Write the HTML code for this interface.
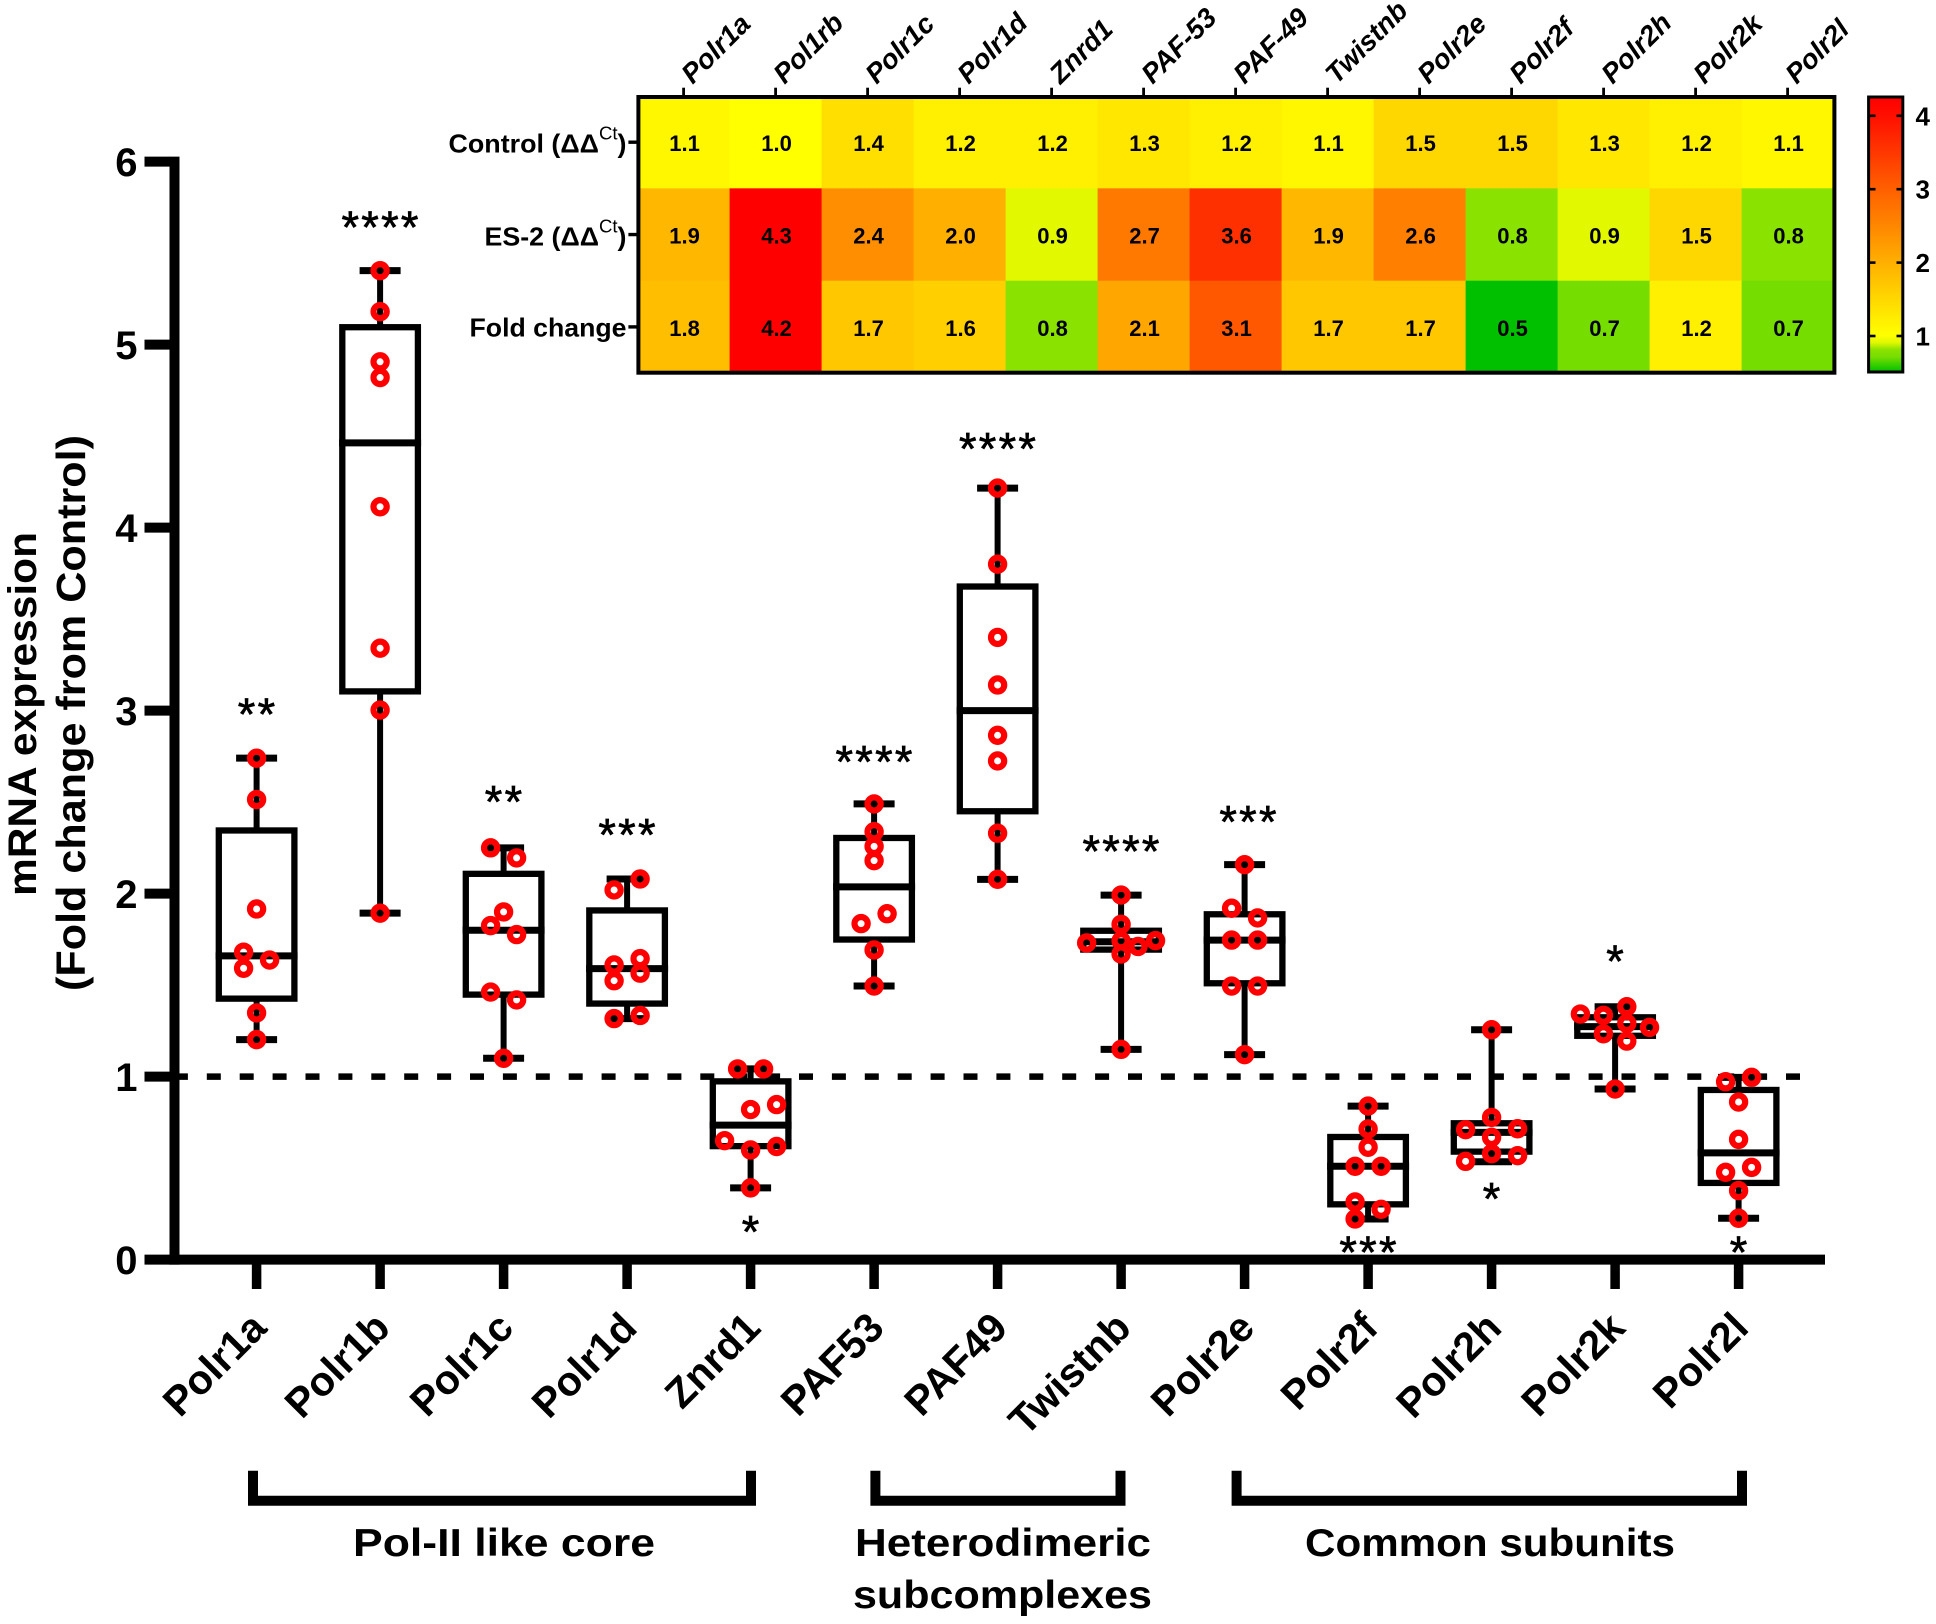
<!DOCTYPE html>
<html lang="en">
<head>
<meta charset="utf-8">
<title>mRNA expression box plots and heatmap</title>
<style>
html,body{margin:0;padding:0;background:#fff;}
svg{display:block;font-family:"Liberation Sans",sans-serif;}
</style>
</head>
<body>
<svg id="chart" xmlns="http://www.w3.org/2000/svg" width="1936" height="1624" viewBox="0 0 1936 1624">
  <rect x="0" y="0" width="1936" height="1624" fill="#fff"/>
  <defs>
    <linearGradient id="cbGrad" x1="0" y1="0" x2="0" y2="1"></linearGradient>
  </defs>

  <g id="dashLayer"></g>
  <g id="boxLayer"></g>
  <g id="axisLayer"></g>
  <g id="pointLayer"></g>
  <g id="starLayer"></g>
  <g id="heatLayer"></g>
  <g id="cbLayer"></g>

  <g font-weight="bold" fill="#000">
    <text transform="translate(36,714) rotate(-90)" text-anchor="middle" font-size="40" textLength="364" lengthAdjust="spacingAndGlyphs">mRNA expression</text>
    <text transform="translate(85,713) rotate(-90)" text-anchor="middle" font-size="41" textLength="556" lengthAdjust="spacingAndGlyphs">(Fold change from Control)</text>
  </g>

  <g font-weight="bold" font-size="26" fill="#000" text-anchor="end">
    <text x="626.5" y="152.7" textLength="178" lengthAdjust="spacingAndGlyphs">Control (ΔΔ<tspan font-size="18" font-weight="normal" dy="-13">Ct</tspan><tspan dy="13">)</tspan></text>
    <text x="626.5" y="245.3" textLength="142" lengthAdjust="spacingAndGlyphs">ES-2 (ΔΔ<tspan font-size="18" font-weight="normal" dy="-13">Ct</tspan><tspan dy="13">)</tspan></text>
    <text x="626.5" y="336.7" textLength="157" lengthAdjust="spacingAndGlyphs">Fold change</text>
  </g>

  <g font-weight="bold" font-size="39" fill="#000" text-anchor="middle">
    <path d="M253 1470.7V1500.7H751V1470.7" fill="none" stroke="#000" stroke-width="10"/>
    <path d="M875.4 1470.7V1500.7H1120.5V1470.7" fill="none" stroke="#000" stroke-width="10"/>
    <path d="M1236.6 1470.7V1500.7H1742V1470.7" fill="none" stroke="#000" stroke-width="10"/>
    <text x="504" y="1556" textLength="302" lengthAdjust="spacingAndGlyphs">Pol-II like core</text>
    <text x="1003" y="1556" textLength="296" lengthAdjust="spacingAndGlyphs">Heterodimeric</text>
    <text x="1002.5" y="1608" textLength="299" lengthAdjust="spacingAndGlyphs">subcomplexes</text>
    <text x="1490" y="1556" textLength="370" lengthAdjust="spacingAndGlyphs">Common subunits</text>
  </g>
</svg>

<script>
// ---------- box plot data ----------
const categories = ["Polr1a","Polr1b","Polr1c","Polr1d","Znrd1","PAF53","PAF49","Twistnb","Polr2e","Polr2f","Polr2h","Polr2k","Polr2l"];
const yTicks = [0,1,2,3,4,5,6];
const referenceValue = 1;
const whiskerHigh = [2.74,5.404,2.25,2.08,1.042,2.49,4.216,1.992,2.158,0.839,1.256,1.382,0.996];
const boxQ3 =       [2.345,5.095,2.108,1.908,0.974,2.304,3.678,1.797,1.887,0.67,0.745,1.324,0.927];
const boxMedian =   [1.66,4.463,1.80,1.59,0.735,2.037,3.0,1.737,1.746,0.51,0.695,1.273,0.583];
const boxQ1 =       [1.426,3.105,1.448,1.399,0.62,1.749,2.45,1.694,1.51,0.302,0.59,1.223,0.419];
const whiskerLow =  [1.202,1.893,1.10,1.317,0.392,1.495,2.078,1.149,1.12,0.222,0.535,0.932,0.226];
const pointValues = [
  [2.74,2.514,1.916,1.68,1.637,1.592,1.348,1.202],
  [5.404,5.18,4.906,4.82,4.114,3.341,3.003,1.893],
  [2.25,2.195,1.90,1.825,1.776,1.462,1.419,1.10],
  [2.08,2.02,1.645,1.61,1.565,1.524,1.334,1.317],
  [1.042,1.042,0.847,0.82,0.65,0.618,0.599,0.392],
  [2.49,2.338,2.258,2.18,1.89,1.836,1.692,1.495],
  [4.216,3.80,3.40,3.14,2.865,2.725,2.33,2.078],
  [1.992,1.832,1.742,1.73,1.711,1.743,1.67,1.149],
  [2.158,1.92,1.867,1.746,1.746,1.495,1.495,1.12],
  [0.839,0.714,0.614,0.51,0.51,0.315,0.275,0.222],
  [1.256,0.777,0.71,0.715,0.668,0.579,0.568,0.537],
  [1.382,1.342,1.335,1.291,1.269,1.234,1.194,0.932],
  [0.996,0.972,0.861,0.657,0.504,0.477,0.377,0.226]
];
const pointJitter = [
  [0,0,0,-1,1,-1,0,0],
  [0,0,0,0,0,0,0,0],
  [-1,1,0,-1,1,-1,1,0],
  [1,-1,1,-1,1,-1,1,-1],
  [-1,1,2,0,-2,2,0,0],
  [0,0,0,0,1,-1,0,0],
  [0,0,0,0,0,0,0,0],
  [0,0,0,-2.65,1.3,2.65,0,0],
  [0,-1,1,-1,1,-1,1,0],
  [0,0,0,-1,1,-1,1,-1],
  [0,0,-2,2,0,0,2,-2],
  [0.9,-2.67,-0.9,0.9,2.65,-0.9,0.9,0],
  [1,-1,0,0,1,-1,0,0]
];
const starLabels = ["**","****","**","***","*","****","****","****","***","***","*","*","*"];
const starHeights = [3.01,5.67,2.53,2.35,0.18,2.75,4.46,2.26,2.42,0.07,0.36,1.66,0.07];

// ---------- heatmap data ----------
const heatColumns = ["Polr1a","Pol1rb","Polr1c","Polr1d","Znrd1","PAF-53","PAF-49","Twistnb","Polr2e","Polr2f","Polr2h","Polr2k","Polr2l"];
const heatRowNames = ["control","es-2","fold-change"];
const heatControl = [1.1,1.0,1.4,1.2,1.2,1.3,1.2,1.1,1.5,1.5,1.3,1.2,1.1];
const heatES2 =     [1.9,4.3,2.4,2.0,0.9,2.7,3.6,1.9,2.6,0.8,0.9,1.5,0.8];
const heatFold =    [1.8,4.2,1.7,1.6,0.8,2.1,3.1,1.7,1.7,0.5,0.7,1.2,0.7];
const colorbarTicks = [1,2,3,4];

// ---------- axis functions ----------
const NS = "http://www.w3.org/2000/svg";
const yScale = v => 1259.6 - 183 * v;
const xScale = i => 256.6 + 123.5 * i;
const heatX = j => 637.6 + 92 * j;
const heatY = r => 96 + 92.35 * r;
const cbY = v => 336 - 73.4 * (v - 1);
const JITTER_PX = 13;

function make(parent, tag, attrs, text) {
  const el = document.createElementNS(NS, tag);
  for (const k in attrs) el.setAttribute(k, attrs[k]);
  if (text !== undefined) el.textContent = text;
  parent.appendChild(el);
  return el;
}
const greenRamp = [[0.5,0],[0.7,118],[0.8,138],[0.9,225],[1,255]];
function heatColor(v) {
  if (v <= 1) {
    let red = 0;
    for (let k = 0; k < greenRamp.length - 1; k++) {
      const a = greenRamp[k], b = greenRamp[k + 1];
      if (v >= a[0] && v <= b[0]) red = a[1] + (b[1] - a[1]) * (v - a[0]) / (b[0] - a[0]);
    }
    return "rgb(" + Math.round(red) + "," + Math.round(192 + 63 * red / 255) + ",0)";
  }
  const g = Math.max(0, 255 * (1 - (v - 1) / 3.2));
  return "rgb(255," + Math.round(g) + ",0)";
}
const dashLayer = document.getElementById("dashLayer");
const boxLayer = document.getElementById("boxLayer");
const axisLayer = document.getElementById("axisLayer");
const pointLayer = document.getElementById("pointLayer");
const starLayer = document.getElementById("starLayer");
const heatLayer = document.getElementById("heatLayer");
const cbLayer = document.getElementById("cbLayer");

// reference line
const refLine = make(dashLayer, "line", {x1:173.9, x2:1801.5, y1:yScale(referenceValue), y2:yScale(referenceValue), stroke:"#000", "stroke-width":6.5, "stroke-dasharray":"14 18.9"});



// boxes
categories.forEach((name, i) => {
  const x = xScale(i);
  const g = make(boxLayer, "g", {});
  
  
  const wu = make(g, "line", {x1:x, x2:x, y1:yScale(whiskerHigh[i]), y2:yScale(boxQ3[i]), stroke:"#000", "stroke-width":6});
  
  
  const wl = make(g, "line", {x1:x, x2:x, y1:yScale(boxQ1[i]), y2:yScale(whiskerLow[i]), stroke:"#000", "stroke-width":6});
  
  
  const cu = make(g, "line", {x1:x-20.5, x2:x+20.5, y1:yScale(whiskerHigh[i]), y2:yScale(whiskerHigh[i]), stroke:"#000", "stroke-width":7});
  
  
  const cl = make(g, "line", {x1:x-20.5, x2:x+20.5, y1:yScale(whiskerLow[i]), y2:yScale(whiskerLow[i]), stroke:"#000", "stroke-width":7});
  
  
  const r = make(g, "rect", {x:x-37.8, width:75.6, y:yScale(boxQ3[i]), height:yScale(boxQ1[i]) - yScale(boxQ3[i]), fill:"none", stroke:"#000", "stroke-width":6.3});
  
  
  const m = make(g, "line", {x1:x-41, x2:x+41, y1:yScale(boxMedian[i]), y2:yScale(boxMedian[i]), stroke:"#000", "stroke-width":7});
  
  
});

// axes
const yAxisLine = make(axisLayer, "line", {x1:174.5, x2:174.5, y1:156.6, y2:1264.6, stroke:"#000", "stroke-width":10});


const xAxisLine = make(axisLayer, "line", {x1:169.5, x2:1825, y1:yScale(0), y2:yScale(0), stroke:"#000", "stroke-width":10});


yTicks.forEach(v => {
  const t = make(axisLayer, "line", {x1:144.5, x2:170, y1:yScale(v), y2:yScale(v), stroke:"#000", "stroke-width":10});
  
  
  const l = make(axisLayer, "text", {x:137.5, y:yScale(v)+14.5, "text-anchor":"end", "font-size":40, "font-weight":"bold", fill:"#000"}, String(v));
  
  
});
categories.forEach((name, i) => {
  const x = xScale(i);
  const t = make(axisLayer, "line", {x1:x, x2:x, y1:yScale(0), y2:1289, stroke:"#000", "stroke-width":9.5});
  
  
  const lx = x + 12;
  const l = make(axisLayer, "text", {transform:"translate(" + lx + ",1330) rotate(-45)", "text-anchor":"end", "font-size":41, "font-weight":"bold", fill:"#000"}, name);
  
  
});

// points
pointValues.forEach((vals, i) => {
  vals.forEach((v, k) => {
    const c = make(pointLayer, "circle", {cx:xScale(i) + pointJitter[i][k] * JITTER_PX, cy:yScale(v), r:6.6, fill:"none", stroke:"#ff0000", "stroke-width":6.2});
    
    
  });
});

// significance stars
starLabels.forEach((s, i) => {
  const nudge = categories[i] === "Polr2e" ? 3.5 : 0;
  const t = make(starLayer, "text", {x:xScale(i) + 1 + nudge, y:yScale(starHeights[i]) + 21, "text-anchor":"middle", "font-size":45, "letter-spacing":2.3, fill:"#000", stroke:"#000", "stroke-width":0.7}, s);
  
  
});

// heatmap
[heatControl, heatES2, heatFold].forEach((row, r) => {
  row.forEach((v, j) => {
    const c = make(heatLayer, "rect", {x:heatX(j), y:heatY(r), width:92.4, height:92.7, fill:heatColor(v)});
    
    
  });
});
[heatControl, heatES2, heatFold].forEach((row, r) => {
  row.forEach((v, j) => {
    const t = make(heatLayer, "text", {x:heatX(j)+47, y:heatY(r)+46.2+9, "text-anchor":"middle", "font-size":22, "font-weight":"bold", fill:"#000"}, v.toFixed(1));
    
    
  });
  const tick = make(heatLayer, "line", {x1:628.4, x2:637, y1:heatY(r)+46.2, y2:heatY(r)+46.2, stroke:"#000", "stroke-width":3.4});
  
  
});
const heatFrame = make(heatLayer, "rect", {x:638.4, y:97, width:1196, height:275.7, fill:"none", stroke:"#000", "stroke-width":4});


heatColumns.forEach((name, j) => {
  const x = heatX(j) + 46;
  const t = make(heatLayer, "line", {x1:x, x2:x, y1:87.7, y2:96, stroke:"#000", "stroke-width":2.8});
  
  
  const lx = x + 9;
  const l = make(heatLayer, "text", {transform:"translate(" + lx + ",85) rotate(-45)", "font-size":27.5, "font-weight":"bold", "font-style":"italic", fill:"#000"}, name);
  
  
});

// colour bar
const grad = document.getElementById("cbGrad");
[4.27,4,3.5,3,2.5,2,1.5,1.2,1,0.9,0.8,0.7,0.6,0.5].forEach(v => {
  make(grad, "stop", {offset:(cbY(v) - 96) / 277, "stop-color":heatColor(v)});
});
const cbRect = make(cbLayer, "rect", {x:1868.6, y:97, width:34.2, height:275, fill:"url(#cbGrad)", stroke:"#000", "stroke-width":3});


colorbarTicks.forEach(v => {
  const a = make(cbLayer, "line", {x1:1869, x2:1875.5, y1:cbY(v), y2:cbY(v), stroke:"#000", "stroke-width":2.6});
  
  
  const b = make(cbLayer, "line", {x1:1896.5, x2:1903, y1:cbY(v), y2:cbY(v), stroke:"#000", "stroke-width":2.6});
  
  
  const l = make(cbLayer, "text", {x:1915.5, y:cbY(v)+9.5, "font-size":26, "font-weight":"bold", fill:"#000"}, String(v));
  
  
});
</script>
</body>
</html>
